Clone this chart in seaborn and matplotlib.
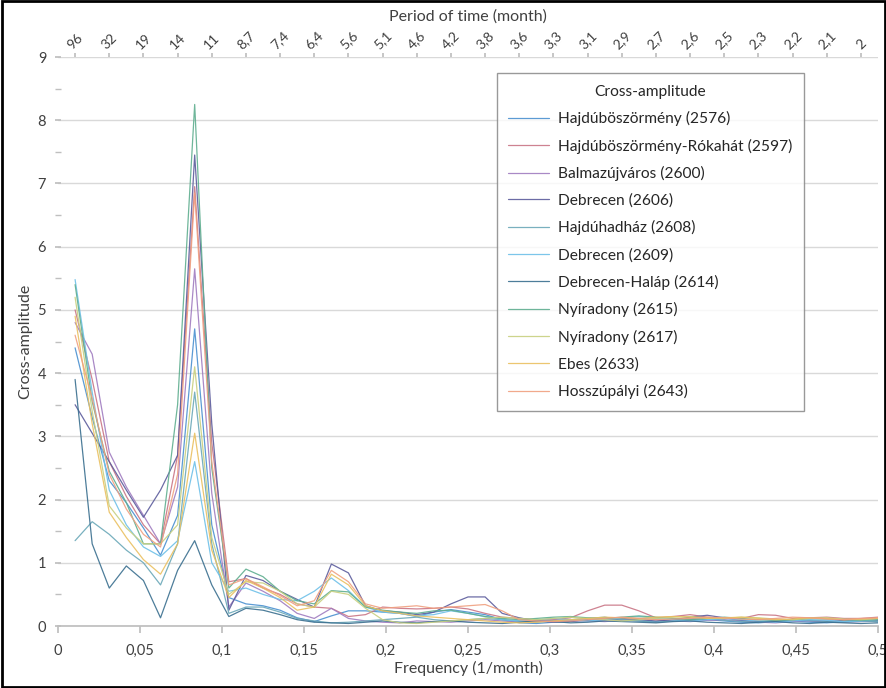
import matplotlib
import matplotlib.pyplot as plt
import numpy as np
import pandas as pd
import seaborn as sns
from matplotlib.patches import Rectangle

matplotlib.use("Agg")

# Fourier frequencies of a 96-month record (k = 1..48)
n_months = 96
freq = np.arange(1, 49) / n_months

stations = [
    "Hajdúböszörmény (2576)",
    "Hajdúböszörmény-Rókahát (2597)",
    "Balmazújváros (2600)",
    "Debrecen (2606)",
    "Hajdúhadház (2608)",
    "Debrecen (2609)",
    "Debrecen-Haláp (2614)",
    "Nyíradony (2615)",
    "Nyíradony (2617)",
    "Ebes (2633)",
    "Hosszúpályi (2643)",
]

colors = [
    "#4A90D0", "#C97585", "#A07CC0", "#5C5C9C", "#6AA8B8", "#6EC0E8",
    "#3A6F8F", "#5FAE8F", "#C8D080", "#EAC060", "#F0A080",
]

amp_2576 = [4.4, 3.3, 2.3, 1.95, 1.55, 1.12, 1.75, 4.7, 1.6, 0.45, 0.35, 0.32,
            0.25, 0.13, 0.07, 0.16, 0.24, 0.24, 0.22, 0.2, 0.15, 0.22, 0.26, 0.22,
            0.18, 0.1, 0.05, 0.04, 0.06, 0.08, 0.1, 0.12, 0.1, 0.08, 0.07, 0.1,
            0.12, 0.1, 0.08, 0.06, 0.05, 0.07, 0.08, 0.06, 0.05, 0.07, 0.08, 0.07]
amp_2597 = [5.0, 3.9, 2.6, 2.05, 1.6, 1.3, 2.7, 6.95, 2.9, 0.7, 0.75, 0.6,
            0.5, 0.35, 0.3, 0.28, 0.15, 0.18, 0.3, 0.28, 0.27, 0.28, 0.3, 0.27,
            0.2, 0.14, 0.12, 0.1, 0.1, 0.13, 0.24, 0.33, 0.33, 0.24, 0.13, 0.15,
            0.18, 0.14, 0.12, 0.12, 0.18, 0.17, 0.12, 0.13, 0.14, 0.12, 0.12, 0.14]
amp_2600 = [4.8, 4.3, 2.75, 2.2, 1.75, 1.3, 2.2, 5.65, 2.1, 0.3, 0.68, 0.55,
            0.4, 0.2, 0.12, 0.28, 0.12, 0.08, 0.06, 0.05, 0.08, 0.07, 0.06, 0.08,
            0.1, 0.08, 0.06, 0.07, 0.09, 0.1, 0.08, 0.07, 0.09, 0.12, 0.1, 0.08,
            0.07, 0.09, 0.1, 0.08, 0.06, 0.05, 0.07, 0.09, 0.08, 0.06, 0.07, 0.08]
amp_2606 = [3.5, 3.05, 2.6, 2.15, 1.72, 2.15, 2.7, 7.45, 3.2, 0.25, 0.8, 0.72,
            0.55, 0.42, 0.3, 0.98, 0.84, 0.32, 0.24, 0.22, 0.18, 0.22, 0.35, 0.46,
            0.46, 0.2, 0.13, 0.08, 0.06, 0.07, 0.09, 0.1, 0.12, 0.1, 0.08, 0.1,
            0.14, 0.17, 0.13, 0.09, 0.07, 0.08, 0.1, 0.08, 0.07, 0.09, 0.1, 0.09]
amp_2608 = [1.35, 1.65, 1.45, 1.2, 1.0, 0.65, 1.3, 3.7, 1.3, 0.2, 0.3, 0.3,
            0.22, 0.12, 0.08, 0.05, 0.06, 0.08, 0.1, 0.12, 0.14, 0.1, 0.08, 0.1,
            0.12, 0.1, 0.08, 0.06, 0.08, 0.1, 0.12, 0.14, 0.1, 0.08, 0.06, 0.08,
            0.1, 0.12, 0.09, 0.07, 0.06, 0.08, 0.1, 0.09, 0.07, 0.06, 0.08, 0.07]
amp_2609 = [5.48, 3.7, 2.15, 1.6, 1.25, 1.1, 1.35, 2.6, 1.0, 0.55, 0.6, 0.5,
            0.42, 0.4, 0.55, 0.76, 0.56, 0.3, 0.22, 0.2, 0.16, 0.18, 0.24, 0.2,
            0.15, 0.1, 0.08, 0.1, 0.12, 0.1, 0.08, 0.1, 0.13, 0.15, 0.12, 0.1,
            0.08, 0.1, 0.12, 0.1, 0.08, 0.06, 0.08, 0.1, 0.09, 0.07, 0.08, 0.1]
amp_2614 = [3.9, 1.3, 0.6, 0.95, 0.72, 0.13, 0.88, 1.35, 0.65, 0.15, 0.28, 0.25,
            0.18, 0.1, 0.06, 0.05, 0.04, 0.06, 0.08, 0.06, 0.05, 0.07, 0.08, 0.06,
            0.05, 0.04, 0.06, 0.08, 0.07, 0.05, 0.06, 0.08, 0.07, 0.06, 0.05, 0.07,
            0.08, 0.06, 0.05, 0.04, 0.06, 0.07, 0.05, 0.04, 0.06, 0.05, 0.04, 0.05]
amp_2615 = [5.4, 3.55, 2.45, 1.95, 1.3, 1.3, 3.5, 8.25, 2.5, 0.6, 0.9, 0.78,
            0.55, 0.4, 0.35, 0.56, 0.54, 0.3, 0.25, 0.22, 0.2, 0.24, 0.25, 0.2,
            0.15, 0.12, 0.1, 0.12, 0.14, 0.15, 0.13, 0.12, 0.14, 0.16, 0.14, 0.12,
            0.1, 0.12, 0.14, 0.12, 0.1, 0.09, 0.1, 0.12, 0.11, 0.1, 0.09, 0.1]
amp_2617 = [5.2, 3.4, 1.9, 1.55, 1.3, 1.3, 1.6, 4.1, 1.4, 0.5, 0.7, 0.68,
            0.55, 0.35, 0.3, 0.55, 0.5, 0.28, 0.1, 0.05, 0.04, 0.06, 0.08, 0.1,
            0.12, 0.14, 0.12, 0.1, 0.12, 0.14, 0.12, 0.1, 0.08, 0.1, 0.12, 0.14,
            0.15, 0.13, 0.12, 0.14, 0.13, 0.11, 0.1, 0.12, 0.13, 0.11, 0.1, 0.12]
amp_2633 = [4.9, 3.2, 1.8, 1.4, 1.05, 0.82, 1.3, 3.05, 1.2, 0.45, 0.72, 0.6,
            0.45, 0.25, 0.3, 0.82, 0.65, 0.32, 0.24, 0.2, 0.16, 0.14, 0.12, 0.1,
            0.08, 0.06, 0.05, 0.06, 0.08, 0.1, 0.12, 0.14, 0.13, 0.12, 0.14, 0.15,
            0.14, 0.12, 0.13, 0.14, 0.12, 0.1, 0.11, 0.13, 0.12, 0.1, 0.11, 0.12]
amp_2643 = [4.6, 3.6, 2.4, 1.85, 1.45, 1.25, 2.4, 6.85, 2.6, 0.65, 0.75, 0.62,
            0.48, 0.32, 0.4, 0.88, 0.7, 0.35, 0.28, 0.3, 0.32, 0.28, 0.3, 0.32,
            0.34, 0.24, 0.1, 0.08, 0.07, 0.08, 0.1, 0.12, 0.14, 0.12, 0.1, 0.11,
            0.12, 0.14, 0.13, 0.11, 0.1, 0.12, 0.14, 0.13, 0.11, 0.1, 0.12, 0.13]

amplitudes = [amp_2576, amp_2597, amp_2600, amp_2606, amp_2608, amp_2609,
              amp_2614, amp_2615, amp_2617, amp_2633, amp_2643]

x_tick_labels = ["0", "0,05", "0,1", "0,15", "0,2", "0,25", "0,3", "0,35",
                 "0,4", "0,45", "0,5"]
period_labels = ["96", "32", "19", "14", "11", "8,7", "7,4", "6,4", "5,6",
                 "5,1", "4,6", "4,2", "3,8", "3,6", "3,3", "3,1", "2,9", "2,7",
                 "2,6", "2,5", "2,3", "2,2", "2,1", "2"]

df = pd.concat(
    [pd.DataFrame({"freq": freq, "amp": a, "station": s})
     for s, a in zip(stations, amplitudes)],
    ignore_index=True,
)

sns.set_theme(style="white")
plt.rcParams["font.family"] = ["Lato", "DejaVu Sans"]

fig = plt.figure(figsize=(8.87, 6.88), dpi=100)
ax = fig.add_axes([0.0654, 0.0901, 0.9245, 0.8270])

sns.lineplot(
    data=df, x="freq", y="amp", hue="station", hue_order=stations,
    palette=dict(zip(stations, colors)), linewidth=0.9, alpha=0.9, ax=ax,
)

ax.set_xlim(0, 0.5)
ax.set_ylim(0, 9)
ax.set_xticks(np.linspace(0, 0.5, 11))
ax.set_xticklabels(x_tick_labels, fontsize=10.5, color="#404040")
ax.set_yticks(range(10))
ax.set_yticklabels([str(i) for i in range(10)], fontsize=10.5, color="#404040")
ax.set_yticks(np.arange(0.5, 9, 1), minor=True)
ax.grid(axis="y", color="#D9D9D9", linewidth=1)
ax.set_axisbelow(True)

for side in ["top", "right", "left"]:
    ax.spines[side].set_visible(False)
ax.spines["bottom"].set_color("#BFBFBF")
ax.tick_params(axis="x", which="major", direction="out", length=5,
               color="#BFBFBF", bottom=True, pad=8)
ax.tick_params(axis="y", which="both", direction="inout", length=5,
               color="#BFBFBF", left=True, pad=6)

ax.set_xlabel("Frequency (1/month)", fontsize=11.5, color="#404040", labelpad=2)
ax.set_ylabel("Cross-amplitude", fontsize=11.5, color="#404040", labelpad=4)

# secondary axis with the corresponding periods
ax2 = ax.twiny()
ax2.set_xlim(ax.get_xlim())
ax2.set_xticks(freq[::2])
ax2.set_xticklabels(period_labels, rotation=45, fontsize=10, color="#404040")
for side in ["top", "right", "left", "bottom"]:
    ax2.spines[side].set_visible(False)
ax2.tick_params(axis="x", direction="out", length=3, color="#BFBFBF", top=True, pad=1)
ax2.set_xlabel("Period of time (month)", fontsize=11.5, color="#404040", labelpad=6)

leg = ax.legend(
    title="Cross-amplitude", loc="upper left", bbox_to_anchor=(0.535, 0.972),
    fontsize=11.2, title_fontsize=11.2, frameon=True, fancybox=False,
    edgecolor="#808080", handlelength=2.6, handletextpad=0.6,
    labelspacing=0.8, borderpad=0.75, borderaxespad=0,
)
leg.get_frame().set_linewidth(1)
for line in leg.get_lines():
    line.set_linewidth(0.9)

fig.patches.append(Rectangle((0.002, 0.002), 0.996, 0.996, transform=fig.transFigure,
                             fill=False, edgecolor="black", linewidth=2))

fig.savefig("out.png", dpi=100, facecolor="white")
plt.close(fig)
